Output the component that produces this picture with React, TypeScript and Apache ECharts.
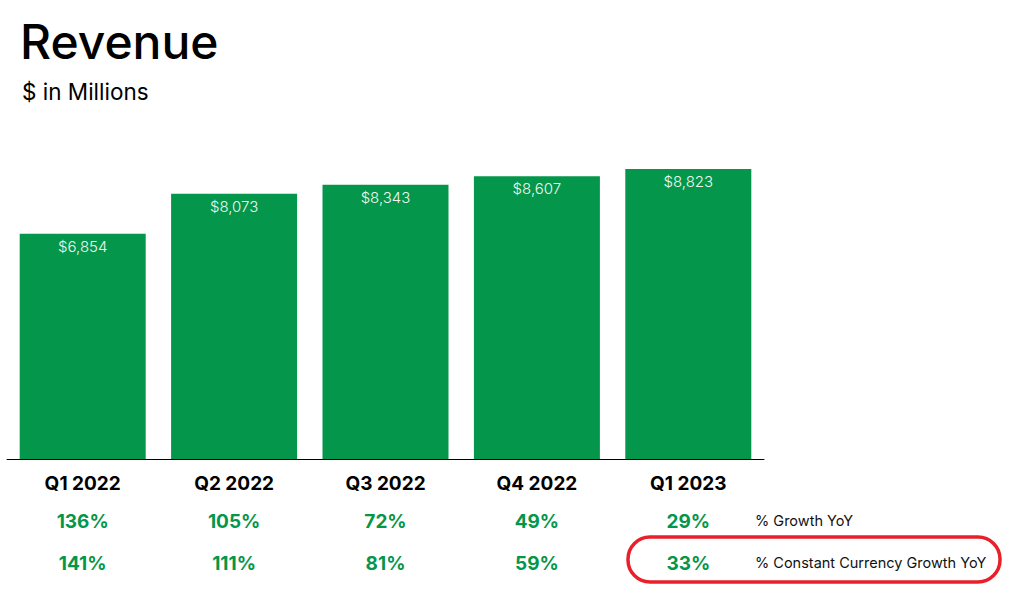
import React, { useEffect, useRef } from "react";
import * as echarts from "echarts";

const categories = ["Q1 2022", "Q2 2022", "Q3 2022", "Q4 2022", "Q1 2023"];
const revenue = [6854, 8073, 8343, 8607, 8823];
const growthYoY = ["136%", "105%", "72%", "49%", "29%"];
const ccGrowthYoY = ["141%", "111%", "81%", "59%", "33%"];
const rowLabels = ["% Growth YoY", "% Constant Currency Growth YoY"];

const GREEN = "#04964a";
const FONT = "Inter, 'Open Sans', sans-serif";

export default function App() {
  const ref = useRef<HTMLDivElement>(null);
  useEffect(() => {
    if (!ref.current) return;
    const chart = echarts.init(ref.current, undefined, { renderer: "svg" });
    const hiddenAxis = {
      axisLine: { show: false },
      axisTick: { show: false },
      splitLine: { show: false },
    };
    chart.setOption({
      animation: false,
      backgroundColor: "#ffffff",
      title: [
        {
          text: "Revenue",
          left: 15,
          top: 12,
          textStyle: { fontFamily: FONT, fontSize: 48, fontWeight: 500, color: "#000" },
        },
        {
          text: "$ in Millions",
          left: 17,
          top: 75,
          textStyle: { fontFamily: FONT, fontSize: 22.5, fontWeight: 400, color: "#000" },
        },
      ],
      grid: { left: 7, right: 258, top: 160, height: 299, containLabel: false },
      xAxis: [
        {
          type: "category",
          data: categories,
          axisLine: { show: true, lineStyle: { color: "#000", width: 1 } },
          axisTick: { show: false },
          axisLabel: {
            margin: 15,
            fontFamily: FONT,
            fontSize: 19,
            fontWeight: 700,
            color: "#000",
          },
        },
        {
          type: "category",
          data: growthYoY,
          position: "bottom",
          offset: 38,
          ...hiddenAxis,
          axisLabel: { margin: 15, fontFamily: FONT, fontSize: 19, fontWeight: 700, color: GREEN },
        },
        {
          type: "category",
          data: ccGrowthYoY,
          position: "bottom",
          offset: 80,
          ...hiddenAxis,
          axisLabel: { margin: 15, fontFamily: FONT, fontSize: 19, fontWeight: 700, color: GREEN },
        },
      ],
      yAxis: {
        type: "value",
        min: 0,
        max: 9100,
        show: false,
      },
      series: [
        {
          type: "bar",
          data: revenue,
          barWidth: 126,
          itemStyle: { color: GREEN },
          label: {
            show: true,
            position: "insideTop",
            distance: 5,
            formatter: (p: any) => "$" + Number(p.value).toLocaleString("en-US"),
            fontFamily: FONT,
            fontSize: 15,
            fontWeight: 300,
            color: "#eef8f1",
          },
        },
      ],
      graphic: [
        {
          type: "text",
          left: 755,
          top: 513,
          style: { text: rowLabels[0], font: `400 14.5px ${FONT}`, fill: "#111" },
        },
        {
          type: "text",
          left: 755,
          top: 555,
          style: { text: rowLabels[1], font: `400 14.5px ${FONT}`, fill: "#111" },
        },
        {
          type: "rect",
          shape: { x: 628, y: 537, width: 372, height: 45, r: 22 },
          style: { fill: "none", stroke: "#e8202a", lineWidth: 3.5 },
        },
      ],
    });
    return () => chart.dispose();
  }, []);
  return (
    <div
      ref={ref}
      style={{ position: "absolute", left: 0, top: 0, width: 1022, height: 591 }}
    />
  );
}
